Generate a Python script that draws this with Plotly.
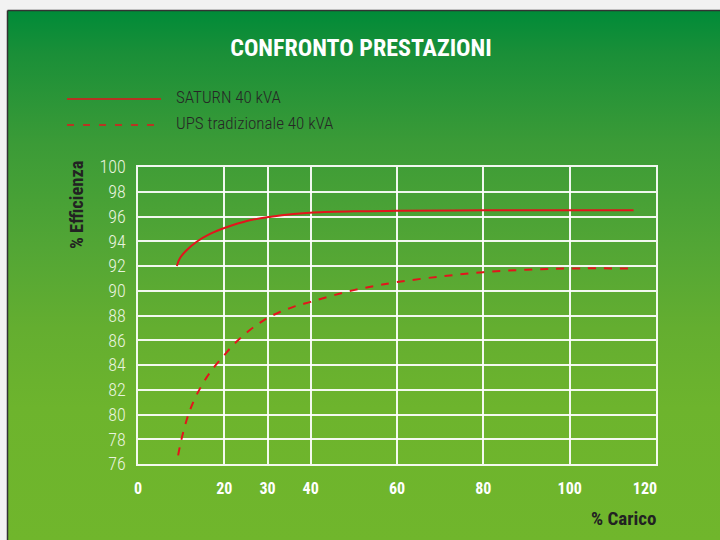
import base64
import plotly.graph_objects as go

# ---------------- data ----------------
series_names = ["SATURN 40 kVA", "UPS tradizionale 40 kVA"]

saturn_x = [9.0, 9.7, 11.3, 13.6, 16.7, 20.5, 25.2, 30.8, 36.0, 40.6, 50.0, 60.0, 80.0, 100.0, 114.8]
saturn_y = [92.0, 92.62, 93.29, 93.96, 94.59, 95.13, 95.64, 95.98, 96.2, 96.32, 96.42, 96.46,
            96.5, 96.5, 96.5]

ups_x = [9.3, 10.0, 11.3, 12.2, 13.6, 15.9, 17.8, 20.0, 22.0, 24.0, 26.0, 28.0, 30.0, 33.0,
         36.0, 40.0, 45.0, 50.0, 55.0, 60.0, 70.0, 80.0, 90.0, 100.0, 113.5]
ups_y = [76.7, 77.9, 79.6, 80.5, 81.6, 83.0, 83.9, 84.8, 85.6, 86.25, 86.85, 87.35, 87.8, 88.3,
         88.7, 89.1, 89.6, 90.05, 90.4, 90.7, 91.15, 91.5, 91.7, 91.8, 91.8]

x_ticks = [0, 20, 30, 40, 60, 80, 100, 120]
y_ticks = list(range(76, 101, 2))

title_text = "CONFRONTO PRESTAZIONI"
x_title = "% Carico"
y_title = "% Efficienza"

# ---------------- layout geometry ----------------
W, H = 720, 540
L, R, T, B = 138, 656, 167, 464   # plot area in pixels


def px_x(p):
    return (p - L) / (R - L)


def px_y(p):
    return (B - p) / (B - T)


NARROW = "Roboto Condensed, Liberation Sans Narrow, Arial Narrow, DejaVu Sans Condensed, sans-serif"
RED = "#e3141c"

fig = go.Figure()
fig.add_trace(go.Scatter(x=saturn_x, y=saturn_y, mode="lines", name=series_names[0],
                         line=dict(color=RED, width=2, shape="spline", smoothing=1.0)))
fig.add_trace(go.Scatter(x=ups_x, y=ups_y, mode="lines", name=series_names[1],
                         line=dict(color=RED, width=2, dash="8px,8px", shape="spline", smoothing=1.0)))

# gradient background via inline SVG image
stops = [(0.0, "#008b38"), (0.08, "#1a8f38"), (0.25, "#3b9b37"), (0.45, "#53a635"),
         (0.6, "#64ae30"), (0.75, "#6db42d"), (1.0, "#70b62c")]
stop_xml = "".join(f"<stop offset='{o}' stop-color='{c}'/>" for o, c in stops)
svg = ("<svg xmlns='http://www.w3.org/2000/svg' width='712' height='530' viewBox='0 0 712 530' "
       "preserveAspectRatio='none'><defs><linearGradient id='g' x1='0' y1='0' x2='0' y2='1'>"
       + stop_xml + "</linearGradient></defs><rect width='712' height='530' fill='url(#g)'/></svg>")
src = "data:image/svg+xml;base64," + base64.b64encode(svg.encode()).decode()
bg_left, bg_top = 8, 11
fig.add_layout_image(dict(source=src, xref="paper", yref="paper",
                          x=px_x(bg_left), y=px_y(bg_top),
                          sizex=(W - bg_left) / (R - L), sizey=(H - bg_top) / (B - T),
                          xanchor="left", yanchor="top", sizing="stretch", layer="below"))

shapes = [
    # frame border
    dict(type="line", xref="paper", yref="paper", x0=px_x(7.5), x1=px_x(W + 2),
         y0=px_y(10.5), y1=px_y(10.5), line=dict(color="#333333", width=1.5)),
    dict(type="line", xref="paper", yref="paper", x0=px_x(7.5), x1=px_x(7.5),
         y0=px_y(10.5), y1=px_y(H + 2), line=dict(color="#333333", width=1.5)),
    # legend samples
    dict(type="line", xref="paper", yref="paper", x0=px_x(67), x1=px_x(161),
         y0=px_y(99), y1=px_y(99), line=dict(color=RED, width=1.6)),
    dict(type="line", xref="paper", yref="paper", x0=px_x(67), x1=px_x(161),
         y0=px_y(125), y1=px_y(125), line=dict(color=RED, width=1.6, dash="7px,9px")),
]

annotations = [
    dict(text=series_names[0], xref="paper", yref="paper", x=px_x(174), y=px_y(97),
         xanchor="left", yanchor="middle", showarrow=False,
         font=dict(family=NARROW, size=17, weight=300, color="#262626")),
    dict(text=series_names[1], xref="paper", yref="paper", x=px_x(174), y=px_y(123),
         xanchor="left", yanchor="middle", showarrow=False,
         font=dict(family=NARROW, size=17, weight=300, color="#262626")),
    dict(text="<b>" + x_title + "</b>", xref="paper", yref="paper", x=px_x(659), y=px_y(518),
         xanchor="right", yanchor="middle", showarrow=False,
         font=dict(family=NARROW, size=19, color="#222222")),
    dict(text="<b>" + y_title + "</b>", xref="paper", yref="paper", x=px_x(77), y=px_y(205),
         xanchor="center", yanchor="middle", showarrow=False, textangle=-90,
         font=dict(family=NARROW, size=18.5, color="#222222")),
]

x_ticktext = ["<b>%d</b>" % v for v in x_ticks]
x_ticktext[-1] = x_ticktext[-1] + "&nbsp;" * 6

grid = "rgba(255,255,255,0.92)"
fig.update_layout(
    width=W, height=H,
    margin=dict(l=L, r=W - R, t=T, b=H - B, pad=0),
    paper_bgcolor="#f2f2f2",
    plot_bgcolor="rgba(0,0,0,0)",
    showlegend=False,
    shapes=shapes,
    annotations=annotations,
    title=dict(text="<b>" + title_text + "</b>", x=361 / W, y=1 - 48 / H, xanchor="center",
               yanchor="middle", font=dict(family=NARROW, size=24, color="white")),
    xaxis=dict(range=[0, 120], tickmode="array", tickvals=x_ticks, ticktext=x_ticktext,
               showgrid=True, gridcolor=grid, gridwidth=1.5, zeroline=False,
               showline=True, linecolor=grid, linewidth=1.5, mirror=True,
               ticks="", ticklabelstandoff=9,
               tickfont=dict(family=NARROW, size=16, color="white")),
    yaxis=dict(range=[76, 100], tickmode="array", tickvals=y_ticks,
               showgrid=True, gridcolor=grid, gridwidth=1.5, zeroline=False,
               showline=True, linecolor=grid, linewidth=1.5, mirror=True,
               ticks="", ticklabelstandoff=7,
               tickfont=dict(family=NARROW, size=18, weight=300, color="#e8f3de")),
)

fig.write_html("out.html", config={"displayModeBar": False},
               post_script="document.body.style.margin='0';")
